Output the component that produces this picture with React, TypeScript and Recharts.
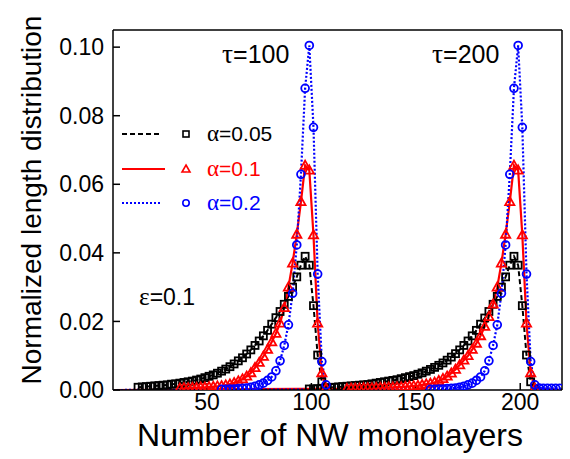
import React from "react";
import { ComposedChart, Line, Scatter, XAxis, YAxis } from "recharts";

const FONT = "'Liberation Sans', Arial, sans-serif";
const GREEK_FONT = "'Liberation Serif', 'Times New Roman', serif";

// monolayer numbers are sampled every 2 starting from each series' first point
const STEP = 2;
const X_DOMAIN: [number, number] = [5, 220];
const Y_DOMAIN: [number, number] = [0, 0.105];
const X_TICKS = [50, 100, 150, 200];
const Y_TICKS = [0, 0.02, 0.04, 0.06, 0.08, 0.1];

// tau = 100
const BLACK_100_START = 17;
const BLACK_100 = [
  0.0008, 0.0009, 0.001, 0.0011, 0.0012, 0.0013, 0.0014, 0.0015, 0.0017, 0.0018,
  0.002, 0.0022, 0.0024, 0.0026, 0.0029, 0.0032, 0.0036, 0.004, 0.0044, 0.0049,
  0.0055, 0.0061, 0.0068, 0.0076, 0.0085, 0.0094, 0.0105, 0.0117, 0.013, 0.0143,
  0.0158, 0.0174, 0.0192, 0.0211, 0.0229, 0.025, 0.0273, 0.03, 0.033, 0.0364,
  0.039, 0.0364, 0.0246, 0.0102, 0.0024, 0.0003,
];
const RED_100_START = 37;
const RED_100 = [
  0.0005, 0.0006, 0.0006, 0.0007, 0.0007, 0.0008, 0.0008, 0.0009, 0.001, 0.0011,
  0.0012, 0.0014, 0.0017, 0.0021, 0.0026, 0.0032, 0.004, 0.005, 0.0065, 0.008,
  0.0098, 0.0118, 0.014, 0.0165, 0.0195, 0.024, 0.03, 0.037, 0.0454, 0.0549,
  0.0655, 0.0641, 0.0452, 0.0195, 0.005, 0.0005,
];
const BLUE_100_START = 57;
const BLUE_100 = [
  0.0002, 0.0002, 0.0003, 0.0003, 0.0004, 0.0005, 0.0006, 0.0008, 0.0011, 0.0015,
  0.002, 0.0028, 0.0038, 0.0056, 0.0085, 0.013, 0.019, 0.0282, 0.0423, 0.0629,
  0.088, 0.1005, 0.0766, 0.0338, 0.0083, 0.0015,
];

// tau = 200
const BLACK_200_START = 99;
const BLACK_200 = [
  0.0003, 0.0003, 0.0004, 0.0005, 0.0006, 0.0007, 0.0008, 0.0009, 0.001, 0.0011,
  0.0012, 0.0013, 0.0014, 0.0015, 0.0016, 0.0018, 0.002, 0.0022, 0.0024, 0.0026,
  0.0028, 0.003, 0.0033, 0.0036, 0.0039, 0.0042, 0.0046, 0.005, 0.0055, 0.006,
  0.0066, 0.0072, 0.0079, 0.0087, 0.0096, 0.0106, 0.0117, 0.013, 0.0143, 0.0158,
  0.0174, 0.0192, 0.021, 0.0229, 0.025, 0.0273, 0.03, 0.033, 0.0364, 0.039,
  0.0364, 0.0246, 0.0102, 0.0024, 0.0003,
];
const RED_200_START = 117;
const RED_200 = [
  0.0004, 0.0005, 0.0005, 0.0005, 0.0006, 0.0006, 0.0006, 0.0007, 0.0007, 0.0007,
  0.0008, 0.0008, 0.0009, 0.0009, 0.001, 0.0011, 0.0012, 0.0013, 0.0015, 0.0017,
  0.0019, 0.0022, 0.0027, 0.0033, 0.004, 0.0049, 0.006, 0.0073, 0.0087, 0.01,
  0.0118, 0.0136, 0.0158, 0.0185, 0.0214, 0.025, 0.03, 0.037, 0.0454, 0.0549,
  0.0655, 0.0641, 0.0452, 0.0195, 0.005, 0.0005,
];
const BLUE_200_START = 157;
const BLUE_200 = [
  0.0002, 0.0002, 0.0003, 0.0003, 0.0004, 0.0005, 0.0006, 0.0008, 0.0011, 0.0015,
  0.002, 0.0028, 0.0038, 0.0056, 0.0085, 0.013, 0.019, 0.0282, 0.0423, 0.0629,
  0.088, 0.1005, 0.0766, 0.0338, 0.0083, 0.0015, 0.0006, 0.0005, 0.0005, 0.0005,
  0.0005, 0.0005,
];

type Pt = { x: number; y: number };

function toPoints(start: number, values: number[]): Pt[] {
  return values.map((y, i) => ({ x: start + i * STEP, y }));
}

const black100 = toPoints(BLACK_100_START, BLACK_100);
const red100 = toPoints(RED_100_START, RED_100);
const blue100 = toPoints(BLUE_100_START, BLUE_100);
const black200 = toPoints(BLACK_200_START, BLACK_200);
const red200 = toPoints(RED_200_START, RED_200);
const blue200 = toPoints(BLUE_200_START, BLUE_200);

// curves run along zero over the whole axis outside the sampled range
function curve(points: Pt[]): Pt[] {
  return [{ x: X_DOMAIN[0], y: 0 }, ...points, { x: X_DOMAIN[1], y: 0 }];
}

const BLACK = "#000000";
const RED = "#ff0000";
const BLUE = "#0000ff";

const SquareShape = (p: any) => (
  <rect
    x={p.cx - 3.5}
    y={p.cy - 3.5}
    width={7}
    height={7}
    fill="none"
    stroke={BLACK}
    strokeWidth={1.8}
  />
);

const TriangleShape = (p: any) => (
  <path
    d={`M${p.cx},${p.cy - 4.8} L${p.cx + 4.6},${p.cy + 3.4} L${p.cx - 4.6},${p.cy + 3.4} Z`}
    fill="none"
    stroke={RED}
    strokeWidth={1.8}
  />
);

const CircleShape = (p: any) => (
  <circle cx={p.cx} cy={p.cy} r={3.9} fill="none" stroke={BLUE} strokeWidth={1.8} />
);

const tickStyle = { fontSize: 23, fill: "#000", fontFamily: FONT };

function GreekLabel({ x, y, letter, rest, size, color }: { x: number; y: number; letter: string; rest: string; size: number; color: string }) {
  return (
    <text x={x} y={y} fontSize={size} fontFamily={FONT} fill={color}>
      <tspan fontFamily={GREEK_FONT} fontSize={size * 1.1}>{letter}</tspan>
      <tspan>{rest}</tspan>
    </text>
  );
}

export default function App() {
  return (
    <div style={{ position: "absolute", left: 0, top: 0, width: 570, height: 459, background: "#fff" }}>
      <ComposedChart
        width={570}
        height={459}
        margin={{ top: 0, right: 0, bottom: 0, left: 0 }}
      >
        <XAxis
          type="number"
          dataKey="x"
          domain={X_DOMAIN}
          ticks={X_TICKS}
          allowDataOverflow
          height={69}
          tickSize={-7}
          tickMargin={11}
          tick={tickStyle}
          axisLine={{ stroke: "#000", strokeWidth: 1.5 }}
          tickLine={{ stroke: "#000", strokeWidth: 1.5 }}
        />
        <XAxis
          xAxisId="top"
          orientation="top"
          type="number"
          dataKey="x"
          domain={X_DOMAIN}
          ticks={X_TICKS}
          allowDataOverflow
          height={30}
          tickSize={-7}
          tick={false}
          axisLine={{ stroke: "#000", strokeWidth: 1.5 }}
          tickLine={{ stroke: "#000", strokeWidth: 1.5 }}
        />
        <YAxis
          type="number"
          domain={Y_DOMAIN}
          ticks={Y_TICKS}
          allowDataOverflow
          width={113}
          tickSize={-7}
          tickMargin={16}
          tick={tickStyle}
          tickFormatter={(v: number) => v.toFixed(2)}
          axisLine={{ stroke: "#000", strokeWidth: 1.5 }}
          tickLine={{ stroke: "#000", strokeWidth: 1.5 }}
        />
        <YAxis
          yAxisId="right"
          orientation="right"
          type="number"
          domain={Y_DOMAIN}
          ticks={Y_TICKS}
          allowDataOverflow
          width={8}
          tickSize={-7}
          tick={false}
          axisLine={{ stroke: "#000", strokeWidth: 1.5 }}
          tickLine={{ stroke: "#000", strokeWidth: 1.5 }}
        />

        <Line data={curve(black200)} dataKey="y" type="linear" stroke={BLACK} strokeWidth={2} strokeDasharray="5 3" dot={false} isAnimationActive={false} />
        <Line data={black100} dataKey="y" type="linear" stroke={BLACK} strokeWidth={2} strokeDasharray="5 3" dot={false} isAnimationActive={false} />
        <Line data={curve(red200)} dataKey="y" type="linear" stroke={RED} strokeWidth={2.2} dot={false} isAnimationActive={false} />
        <Line data={red100} dataKey="y" type="linear" stroke={RED} strokeWidth={2.2} dot={false} isAnimationActive={false} />
        <Line data={curve(blue200)} dataKey="y" type="linear" stroke={BLUE} strokeWidth={2.2} strokeDasharray="2 2" dot={false} isAnimationActive={false} />
        <Line data={blue100} dataKey="y" type="linear" stroke={BLUE} strokeWidth={2.2} strokeDasharray="2 2" dot={false} isAnimationActive={false} />

        <Scatter data={black100} dataKey="y" shape={SquareShape} isAnimationActive={false} />
        <Scatter data={black200} dataKey="y" shape={SquareShape} isAnimationActive={false} />
        <Scatter data={red100} dataKey="y" shape={TriangleShape} isAnimationActive={false} />
        <Scatter data={red200} dataKey="y" shape={TriangleShape} isAnimationActive={false} />
        <Scatter data={blue100} dataKey="y" shape={CircleShape} isAnimationActive={false} />
        <Scatter data={blue200} dataKey="y" shape={CircleShape} isAnimationActive={false} />

        {/* axis titles */}
        <text x={330} y={446} textAnchor="middle" fontSize={32} fontFamily={FONT} fill="#000">
          Number of NW monolayers
        </text>
        <text
          x={41}
          y={200}
          transform="rotate(-90 41 200)"
          textAnchor="middle"
          fontSize={28}
          fontFamily={FONT}
          fill="#000"
        >
          Normalized length distribution
        </text>

        {/* annotations */}
        <GreekLabel x={222} y={63} letter="τ" rest="=100" size={25} color="#000" />
        <GreekLabel x={432} y={63} letter="τ" rest="=200" size={25} color="#000" />
        <GreekLabel x={139} y={305} letter="ε" rest="=0.1" size={23} color="#000" />

        {/* legend */}
        <g>
          <line x1={122} x2={162} y1={134} y2={134} stroke={BLACK} strokeWidth={2} strokeDasharray="5 3" />
          <rect x={183} y={131} width={6} height={6} fill="none" stroke={BLACK} strokeWidth={1.6} />
          <GreekLabel x={207} y={141} letter="α" rest="=0.05" size={21} color={BLACK} />

          <line x1={122} x2={165} y1={169} y2={169} stroke={RED} strokeWidth={2.2} />
          <path d="M186,165 L190,172 L182,172 Z" fill="none" stroke={RED} strokeWidth={1.6} />
          <GreekLabel x={207} y={176} letter="α" rest="=0.1" size={21} color={RED} />

          <line x1={122} x2={162} y1={203} y2={203} stroke={BLUE} strokeWidth={2.2} strokeDasharray="2 2" />
          <circle cx={186} cy={203} r={3.2} fill="none" stroke={BLUE} strokeWidth={1.6} />
          <GreekLabel x={207} y={210} letter="α" rest="=0.2" size={21} color={BLUE} />
        </g>
      </ComposedChart>
    </div>
  );
}
